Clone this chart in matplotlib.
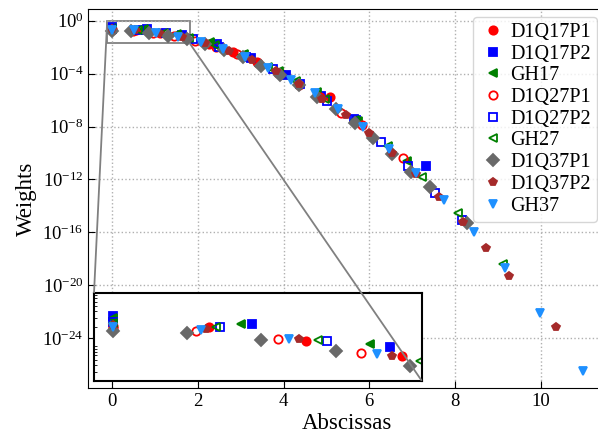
import matplotlib
matplotlib.use("Agg")
import matplotlib.pyplot as plt
from matplotlib.ticker import NullLocator
from mpl_toolkits.axes_grid1.inset_locator import mark_inset

plt.rcParams["font.family"] = "serif"
plt.rcParams["font.serif"] = ["Liberation Serif", "DejaVu Serif"]
plt.rcParams["mathtext.fontset"] = "stix"
plt.rcParams["xtick.direction"] = "in"
plt.rcParams["ytick.direction"] = "in"

# abscissas (x >= 0) and weights
d1q17p1_x = [0.0, 0.565, 1.13, 1.695, 2.26, 2.825, 3.39, 3.955, 5.085]
d1q17p1_w = [0.215, 0.200, 0.111, 0.0585, 0.0180, 4.0e-3, 7.0e-4, 9.5e-5, 1.6e-6]

d1q17p2_x = [0.0, 0.813, 1.626, 2.439, 3.252, 4.065, 4.878, 5.691, 7.317]
d1q17p2_w = [0.327, 0.231, 0.087, 0.0165, 1.64e-3, 8.4e-5, 2.2e-6, 3.0e-8, 1.0e-11]

gh17_x = [0.0, 0.7518, 1.5099, 2.2807, 3.0738, 3.9001, 4.7785, 5.7444, 6.8891]
gh17_w = [0.2995, 0.2267, 0.0974, 0.02309, 2.859e-3, 1.685e-4, 4.013e-6, 2.808e-8, 2.584e-11]

d1q27p1_x = [0.0, 0.485, 0.97, 1.455, 1.94, 2.425, 2.91, 3.395, 3.88, 4.365, 4.85,
             5.335, 5.82, 6.79]
d1q27p1_w = [0.1935, 0.171, 0.120, 0.0674, 0.0295, 0.0102, 2.8e-3, 6.1e-4, 1.04e-4,
             1.4e-5, 1.6e-6, 1.0e-7, 1.2e-8, 4.5e-11]

d1q27p2_x = [0.0, 0.627, 1.254, 1.881, 2.508, 3.135, 3.762, 4.389, 5.016, 5.643, 6.27,
             6.897, 7.524, 8.151]
d1q27p2_w = [0.25, 0.206, 0.113, 0.0426, 0.01076, 1.835e-3, 2.11e-4, 1.64e-5, 8.6e-7,
             3.4e-8, 6.5e-10, 1.0e-11, 1.0e-13, 8.8e-16]

gh27_x = [0.0, 0.606, 1.204, 1.80, 2.41, 3.025, 3.65, 4.295, 4.965, 5.67, 6.435,
          7.235, 8.07, 9.12]
gh27_w = [0.242, 0.199, 0.116, 0.047, 0.0134, 2.55e-3, 3.24e-4, 2.59e-5, 1.22e-6,
          3.1e-8, 3.6e-10, 1.6e-12, 2.7e-15, 4.0e-19]

d1q37p1_x = [0.0, 0.4355, 0.871, 1.3065, 1.742, 2.1775, 2.613, 3.0485, 3.484, 3.9195,
             4.355, 4.7905, 5.226, 5.6615, 6.097, 6.5325, 6.968, 7.4035, 8.2745]
d1q37p1_w = [0.172, 0.158, 0.116, 0.0740, 0.0381, 0.0162, 5.71e-3, 1.67e-3, 4.0e-4,
             8.0e-5, 1.32e-5, 1.8e-6, 2.05e-7, 1.9e-8, 1.45e-9, 9.0e-11, 3.5e-12,
             2.6e-13, 5.0e-16]

d1q37p2_x = [0.0, 0.545, 1.09, 1.635, 2.18, 2.725, 3.27, 3.815, 4.36, 4.905, 5.45,
             5.995, 6.54, 7.085, 7.63, 8.175, 8.72, 9.265, 10.355]
d1q37p2_w = [0.217, 0.187, 0.120, 0.0575, 0.0201, 5.3e-3, 1.04e-3, 1.51e-4, 1.62e-5,
             1.3e-6, 7.7e-8, 3.3e-9, 9.5e-11, 2.6e-12, 4.7e-14, 6.6e-16, 6.5e-18,
             5.0e-20, 6.8e-24]

gh37_x = [0.0, 0.518, 1.03, 1.548, 2.066, 2.586, 3.110, 3.640, 4.177, 4.723, 5.281,
          5.854, 6.47, 7.09, 7.74, 8.43, 9.16, 9.98, 10.97]
gh37_w = [0.2066, 0.181, 0.1209, 0.0624, 0.0245, 7.35e-3, 1.67e-3, 2.82e-4, 3.51e-5,
          3.15e-6, 1.99e-7, 8.6e-9, 2.0e-10, 3.05e-12, 2.6e-14, 1.05e-16, 1.9e-19,
          8.4e-23, 3.5e-27]

series = [
    ("D1Q17P1", d1q17p1_x, d1q17p1_w, dict(marker="o", color="red")),
    ("D1Q17P2", d1q17p2_x, d1q17p2_w, dict(marker="s", color="blue")),
    ("GH17", gh17_x, gh17_w, dict(marker="<", color="green")),
    ("D1Q27P1", d1q27p1_x, d1q27p1_w, dict(marker="o", color="red", mfc="none")),
    ("D1Q27P2", d1q27p2_x, d1q27p2_w, dict(marker="s", color="blue", mfc="none")),
    ("GH27", gh27_x, gh27_w, dict(marker="<", color="green", mfc="none")),
    ("D1Q37P1", d1q37p1_x, d1q37p1_w, dict(marker="D", color="dimgray")),
    ("D1Q37P2", d1q37p2_x, d1q37p2_w, dict(marker="p", color="brown")),
    ("GH37", gh37_x, gh37_w, dict(marker="v", color="dodgerblue")),
]


def draw(ax, with_labels):
    for name, xs, ws, style in series:
        ax.plot(xs, ws, ls="none", ms=6, mew=1.3, label=name if with_labels else None,
                **style)


fig = plt.figure(figsize=(5.98, 4.38), dpi=100)
# main axes runs slightly past the right edge, as in the original crop
ax = fig.add_axes([0.1477, 0.1142, 0.866, 0.8646])
draw(ax, True)
ax.set_yscale("log")
ax.set_xlim(-0.5485, 11.52)
ax.set_ylim(10 ** -27.76, 10 ** 0.86)
ax.set_xticks([0, 2, 4, 6, 8, 10])
ax.set_yticks([10.0 ** -k for k in range(0, 25, 4)])
ax.yaxis.set_minor_locator(NullLocator())
ax.tick_params(labelsize=13.5, length=5)
ax.grid(True, ls=":", color="#b0b0b0", lw=1.0)
ax.set_xlabel("Abscissas", fontsize=16.5, labelpad=2)
ax.set_ylabel("Weights", fontsize=16.5, labelpad=4)

ax.legend(loc="upper right", bbox_to_anchor=(596.7 / 598, 1 - 16.7 / 438),
          bbox_transform=fig.transFigure, borderaxespad=0, fontsize=14.5,
          handlelength=1.45, handletextpad=0.1, labelspacing=0.13, borderpad=0.3)

# zoomed inset of the small-abscissa region
axins = fig.add_axes([94 / 598, 57.3 / 438, 327.7 / 598, 87.7 / 438])
draw(axins, False)
axins.set_yscale("log")
axins.set_xlim(-0.11, 1.81)
axins.set_ylim(0.0203, 0.87)
axins.set_xticks([])
axins.set_yticks([])
for sp in axins.spines.values():
    sp.set_linewidth(1.5)

pp, p1, p2 = mark_inset(ax, axins, loc1=2, loc2=4, fc="none", ec="0.5", lw=1.3)
p1.set_zorder(10)
p2.set_zorder(10)

fig.savefig("out.png", dpi=100)
